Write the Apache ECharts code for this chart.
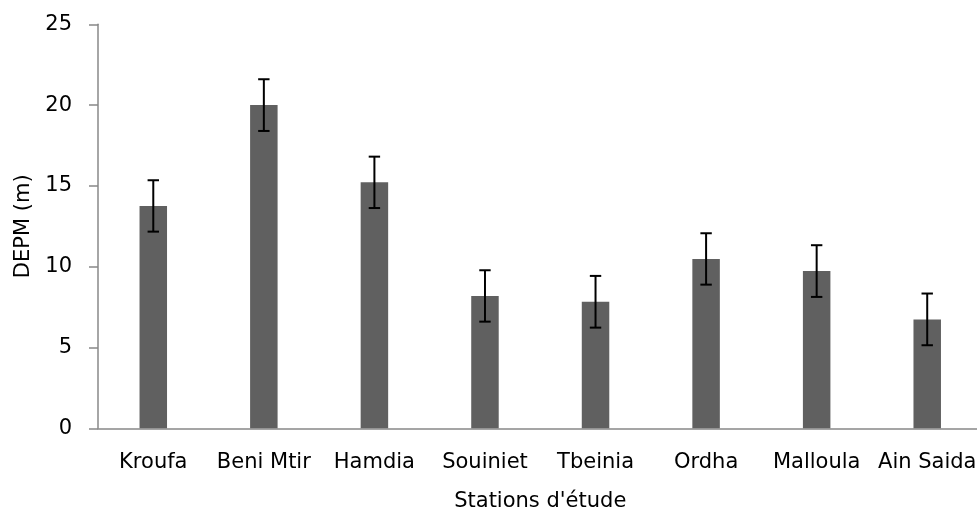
<!DOCTYPE html>
<html>
<head>
<meta charset="utf-8">
<script src="https://cdn.jsdelivr.net/npm/echarts@6/dist/echarts.min.js"></script>
<style>
html,body{margin:0;padding:0;background:#fff;overflow:hidden;}
#chart{width:977px;height:511px;}
</style>
</head>
<body>
<div id="chart"></div>
<script>
var categories = ['Kroufa', 'Beni Mtir', 'Hamdia', 'Souiniet', 'Tbeinia', 'Ordha', 'Malloula', 'Ain Saida'];
var values = [13.76, 20.0, 15.22, 8.19, 7.83, 10.48, 9.73, 6.74];
var errors = [1.59, 1.6, 1.59, 1.59, 1.6, 1.59, 1.6, 1.6];
var yTicks = [0, 5, 10, 15, 20, 25];
var xTitle = "Stations d'étude";
var yTitle = 'DEPM (m)';

var FONT = 'DejaVu Sans';
var FS = 21;
var chart = echarts.init(document.getElementById('chart'), null, {renderer: 'canvas'});

var errData = values.map(function (v, i) { return [i, v - errors[i], v + errors[i]]; });

chart.setOption({
  animation: false,
  backgroundColor: '#ffffff',
  grid: {left: 98, top: 24.3, width: 884.5, height: 404, containLabel: false, outerBoundsMode: 'none'},
  xAxis: {
    type: 'category',
    data: categories,
    name: xTitle,
    nameLocation: 'middle',
    nameGap: 63,
    nameTextStyle: {fontFamily: FONT, fontSize: FS, color: '#000'},
    axisLine: {lineStyle: {color: '#888888', width: 1.5}},
    axisTick: {show: false},
    axisLabel: {fontFamily: FONT, fontSize: FS, color: '#000', margin: 24, interval: 0},
    splitLine: {show: false}
  },
  yAxis: {
    type: 'value',
    min: yTicks[0],
    max: yTicks[yTicks.length - 1],
    interval: 5,
    name: yTitle,
    nameLocation: 'middle',
    nameGap: 64,
    nameTextStyle: {fontFamily: FONT, fontSize: FS, color: '#000'},
    axisLine: {show: true, lineStyle: {color: '#888888', width: 1.5}},
    axisTick: {show: true, length: 9, lineStyle: {color: '#888888', width: 1.5}},
    axisLabel: {fontFamily: FONT, fontSize: FS, color: '#000', margin: 26},
    splitLine: {show: false}
  },
  series: [
    {
      type: 'bar',
      data: values,
      barWidth: 27.5,
      itemStyle: {color: '#606060'},
      z: 2
    },
    {
      type: 'custom',
      data: errData,
      z: 3,
      renderItem: function (params, api) {
        var x = api.value(0);
        var lo = api.coord([x, api.value(1)]);
        var hi = api.coord([x, api.value(2)]);
        var hw = 5.7;
        var style = {stroke: '#000', lineWidth: 2};
        return {
          type: 'group',
          children: [
            {type: 'line', shape: {x1: lo[0], y1: lo[1], x2: hi[0], y2: hi[1]}, style: style},
            {type: 'line', shape: {x1: lo[0] - hw, y1: lo[1], x2: lo[0] + hw, y2: lo[1]}, style: style},
            {type: 'line', shape: {x1: hi[0] - hw, y1: hi[1], x2: hi[0] + hw, y2: hi[1]}, style: style}
          ]
        };
      }
    }
  ]
});
</script>
</body>
</html>
